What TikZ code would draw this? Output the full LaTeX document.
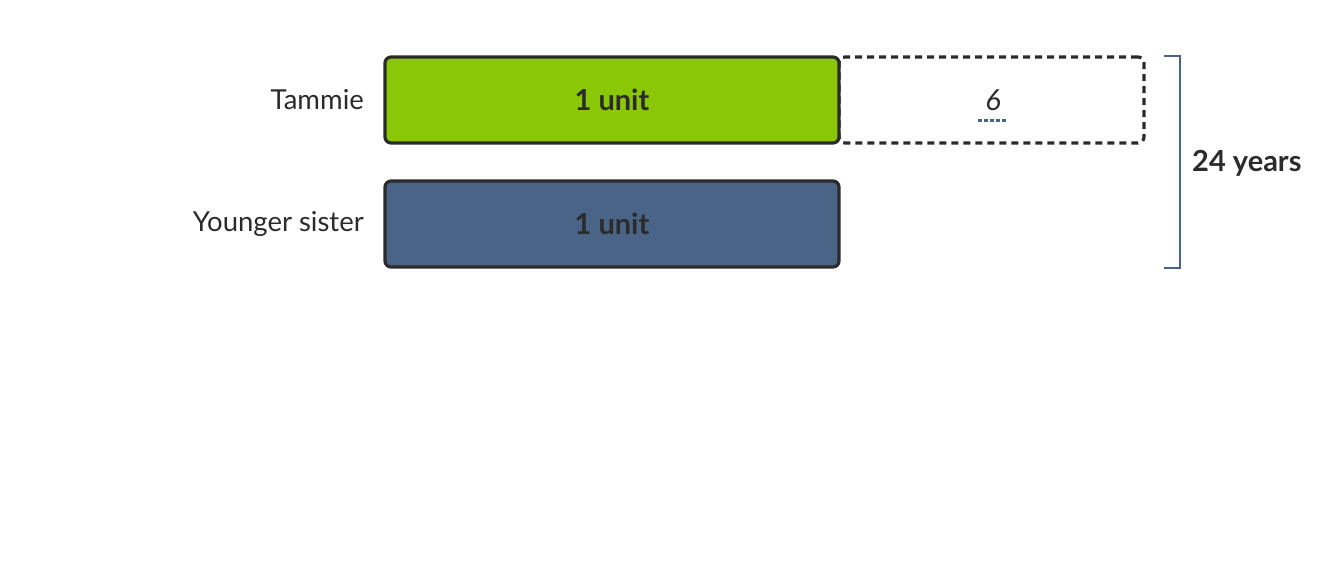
\documentclass[tikz,border=0pt]{standalone}
\usepackage{fontspec}
\setmainfont{Lato}
\definecolor{barline}{HTML}{2B2B2B}
\definecolor{tammiegreen}{HTML}{8AC807}
\definecolor{sisterblue}{HTML}{4A6487}
\tikzset{
  unitbar/.style={draw=barline,line width=3.2pt,rounded corners=6pt,
    minimum width=454pt,minimum height=86pt,inner sep=0pt,
    font=\fontsize{29}{34}\selectfont\bfseries,text=barline},
  agelabel/.style={anchor=east,inner sep=0pt,font=\fontsize{27.5}{32}\selectfont,text=barline}
}
\begin{document}
\begin{tikzpicture}[x=1pt,y=-1pt]
  \useasboundingbox (0,0) rectangle (1328,568);
  % extra part of Tammie's bar
  \path (991.5,100) node[unitbar,draw=barline,dash pattern=on 7pt off 5pt,
    minimum width=305pt,fill=none] (extra) {};
  \path (612,100) node[unitbar,fill=tammiegreen] (tammie) {1 unit};
  \path (612,224) node[unitbar,fill=sisterblue] (sister) {1 unit};
  \path (364,100) node[agelabel] (tlabel) {Tammie};
  \path (364,224) node[agelabel] (slabel) {Younger sister};
  \path ([xshift=1.5pt]extra.center) node[font=\fontsize{29}{34}\selectfont\itshape,text=barline] (six) {6};
  \draw[sisterblue,line width=3pt,dash pattern=on 3.5pt off 2.5pt]
    ([xshift=-13.5pt,yshift=-20pt]extra.center) -- ([xshift=15.5pt,yshift=-20pt]extra.center);
  % bracket for the total
  \coordinate (btop) at (1180,56);
  \coordinate (bbot) at (1180,268);
  \draw[sisterblue,line width=2.5pt] ([xshift=-16pt]btop) -- (btop) -- (bbot) -- ([xshift=-16pt]bbot);
  \path (1192,163) node[anchor=west,inner sep=0pt,font=\fontsize{29}{34}\selectfont\bfseries,text=barline] (total) {24 years};
\end{tikzpicture}
\end{document}
